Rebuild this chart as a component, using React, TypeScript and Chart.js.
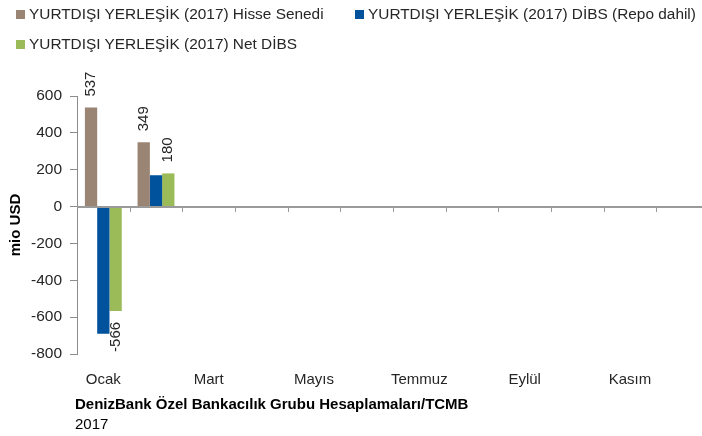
import React, { useEffect, useRef } from "react";
import { Chart, registerables } from "chart.js";

Chart.register(...registerables);

const categories = ["Ocak", "Şubat", "Mart", "Nisan", "Mayıs", "Haziran", "Temmuz", "Ağustos", "Eylül", "Ekim", "Kasım", "Aralık"];
const hisseSenedi = [537, 349, null, null, null, null, null, null, null, null, null, null];
const dibsRepo = [-690, 170, null, null, null, null, null, null, null, null, null, null];
const netDibs = [-566, 180, null, null, null, null, null, null, null, null, null, null];
const seriesNames = [
  "YURTDIŞI YERLEŞİK (2017) Hisse Senedi",
  "YURTDIŞI YERLEŞİK (2017) DİBS (Repo dahil)",
  "YURTDIŞI YERLEŞİK (2017) Net DİBS",
];
const yTicks = { min: -800, max: 600, step: 200 };

const COLORS = ["#9A8474", "#00529C", "#9BBB59"];
const FONT = "'Liberation Sans', Arial, sans-serif";
const TEXT = "#262626";

const zeroLinePlugin = {
  id: "zeroLine",
  afterDatasetsDraw(chart: any) {
    const { ctx, chartArea, scales } = chart;
    const y0 = Math.round(scales.y.getPixelForValue(0));
    ctx.save();
    ctx.strokeStyle = "#9A9A9A";
    ctx.lineWidth = 2;
    ctx.beginPath();
    ctx.moveTo(chartArea.left, y0);
    ctx.lineTo(chartArea.right, y0);
    ctx.stroke();
    ctx.lineWidth = 1;
    ctx.beginPath();
    const n = categories.length;
    for (let i = 0; i < n; i++) {
      const xb = i < n - 1
        ? (scales.x.getPixelForValue(i) + scales.x.getPixelForValue(i + 1)) / 2
        : chartArea.right;
      const xr = Math.round(xb) + 0.5;
      ctx.moveTo(xr, y0);
      ctx.lineTo(xr, y0 + 5);
    }
    ctx.stroke();
    ctx.restore();
  },
};

const labelPlugin = {
  id: "barLabels",
  afterDatasetsDraw(chart: any) {
    const { ctx } = chart;
    ctx.save();
    ctx.font = `15px ${FONT}`;
    ctx.fillStyle = TEXT;
    ctx.textBaseline = "middle";
    [0, 2].forEach((di) => {
      const meta = chart.getDatasetMeta(di);
      const data = chart.data.datasets[di].data;
      meta.data.forEach((el: any, i: number) => {
        const v = data[i];
        if (v === null || v === undefined) return;
        ctx.save();
        if (v >= 0) {
          ctx.translate(el.x, el.y - 11);
          ctx.rotate(-Math.PI / 2);
          ctx.textAlign = "left";
        } else {
          ctx.translate(el.x, el.y + 11);
          ctx.rotate(-Math.PI / 2);
          ctx.textAlign = "right";
        }
        ctx.fillText(String(v), 0, 0);
        ctx.restore();
      });
    });
    ctx.restore();
  },
};

export default function App() {
  const ref = useRef<HTMLCanvasElement>(null);
  useEffect(() => {
    if (!ref.current) return;
    const chart = new Chart(ref.current, {
      type: "bar",
      data: {
        labels: categories,
        datasets: [
          { label: seriesNames[0], data: hisseSenedi, backgroundColor: COLORS[0] },
          { label: seriesNames[1], data: dibsRepo, backgroundColor: COLORS[1] },
          { label: seriesNames[2], data: netDibs, backgroundColor: COLORS[2] },
        ],
      },
      options: {
        responsive: false,
        animation: false,
        layout: { padding: { top: 96, left: 0, right: 3, bottom: 0 } },
        plugins: { legend: { display: false }, tooltip: { enabled: false } },
        datasets: { bar: { categoryPercentage: 0.7, barPercentage: 1 } },
        scales: {
          x: {
            grid: { display: false, drawTicks: false },
            border: { display: false },
            ticks: {
              autoSkip: false,
              maxRotation: 0,
              padding: 17,
              color: TEXT,
              font: { family: FONT, size: 15 },
              callback: (_v: any, i: number) => (i % 2 === 0 ? categories[i] : ""),
            },
            afterFit: (s: any) => { s.height = 82; },
          },
          y: {
            min: yTicks.min,
            max: yTicks.max,
            ticks: { stepSize: yTicks.step, color: TEXT, padding: 8, font: { family: FONT, size: 15.5 } },
            grid: { drawOnChartArea: false, drawTicks: true, tickLength: 7, color: "#8C8C8C" },
            border: { display: true, color: "#8C8C8C" },
            title: {
              display: true,
              text: "mio USD",
              color: "#000",
              font: { family: FONT, size: 15, weight: "bold" },
              padding: { top: 7, bottom: 0 },
            },
            afterFit: (s: any) => { s.width = 77; },
          },
        },
      },
      plugins: [zeroLinePlugin, labelPlugin],
    });
    return () => chart.destroy();
  }, []);

  const legendItem = (i: number, left: number, top: number) => (
    <div key={i} style={{ position: "absolute", left, top, display: "flex", alignItems: "center", whiteSpace: "nowrap" }}>
      <span style={{ display: "inline-block", width: 9, height: 9, background: COLORS[i], marginRight: 4 }} />
      <span>{seriesNames[i]}</span>
    </div>
  );

  return (
    <div style={{ position: "absolute", left: 0, top: 0, width: 702, height: 436, overflow: "hidden", background: "#fff", fontFamily: FONT, fontSize: 15.4, color: TEXT }}>
      <canvas ref={ref} width={712} height={436} style={{ position: "absolute", left: 0, top: 0 }} />
      {legendItem(0, 16, 5)}
      {legendItem(1, 355, 5)}
      {legendItem(2, 16, 35)}
      <div style={{ position: "absolute", left: 75, top: 395, fontWeight: "bold", fontSize: 15, color: "#000", whiteSpace: "nowrap" }}>
        DenizBank Özel Bankacılık Grubu Hesaplamaları/TCMB
      </div>
      <div style={{ position: "absolute", left: 75, top: 415, fontSize: 15, color: "#000" }}>2017</div>
    </div>
  );
}
